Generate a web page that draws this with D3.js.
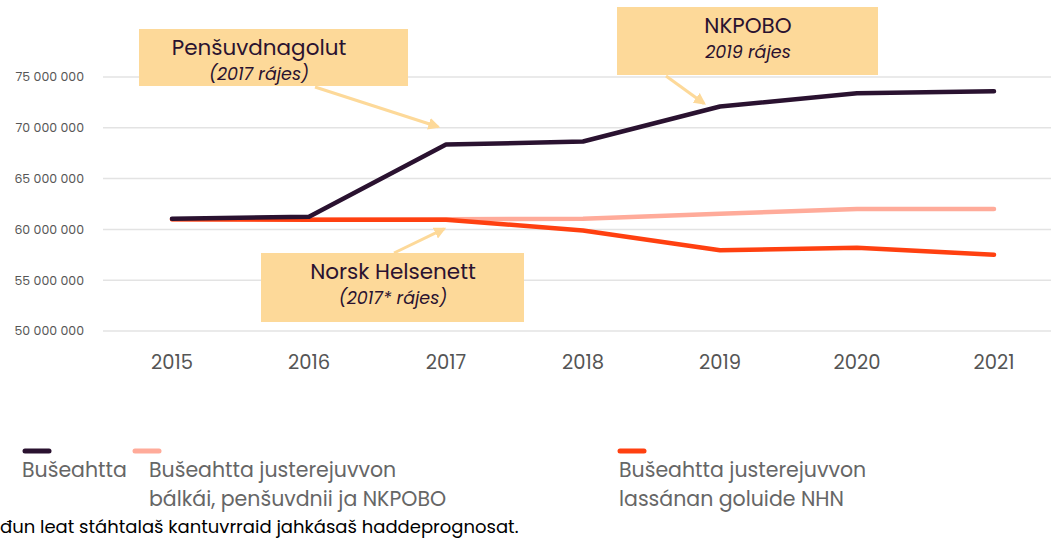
<!DOCTYPE html>
<html>
<head>
<meta charset="UTF-8">
<title>Bušeahtta</title>
<style>
html, body { margin:0; padding:0; background:#fff; }
svg { display:block; font-family: Poppins, Inter, "Open Sans", sans-serif; }
.grid line { stroke:#e3e3e3; stroke-width:1.5; }
.ytick { fill:#555; font-size:12.5px; }
.xtick { fill:#555; font-size:19.5px; }
.note { fill:#fdd999; }
.noteT { fill:#2a1230; }
.leg { fill:#666; font-size:20.5px; }
</style>
<script src="https://cdnjs.cloudflare.com/ajax/libs/d3/7.8.5/d3.min.js"></script>
</head>
<body>
<svg id="chart" width="1051" height="539"></svg>
<script>
const years = [2015, 2016, 2017, 2018, 2019, 2020, 2021];
const budget = [61.05e6, 61.25e6, 68.35e6, 68.65e6, 72.1e6, 73.4e6, 73.6e6];
const adjPension = [61.0e6, 60.95e6, 61.0e6, 61.05e6, 61.55e6, 62.0e6, 62.0e6];
const adjNhn = [61.0e6, 60.95e6, 60.95e6, 59.9e6, 57.95e6, 58.2e6, 57.5e6];
const yTicks = [50e6, 55e6, 60e6, 65e6, 70e6, 75e6];
const seriesNames = ['Bušeahtta', 'Bušeahtta justerejuvvon|bálkái, penšuvdnii ja NKPOBO', 'Bušeahtta justerejuvvon|lassánan goluide NHN'];
const colors = ['#2a1230', '#ffab9a', '#ff4010'];

const svg = d3.select('#chart');
const x = d3.scalePoint().domain(years).range([172, 994]);
const y = d3.scaleLinear().domain([50e6, 75e6]).range([331, 77]);
const fmt = v => d3.format(',')(v).replace(/,/g, ' ');

// grid + y labels
const grid = svg.append('g').attr('class', 'grid');
grid.selectAll('line').data(yTicks).enter().append('line')
	.attr('x1', 103).attr('x2', 1051)
	.attr('y1', d => y(d)).attr('y2', d => y(d));
svg.append('g').selectAll('text').data(yTicks).enter().append('text')
	.attr('class', 'ytick').attr('x', 84).attr('y', d => y(d)).attr('dy', '0.35em')
	.attr('text-anchor', 'end').text(fmt);

// x labels
svg.append('g').selectAll('text').data(years).enter().append('text')
	.attr('class', 'xtick').attr('x', d => x(d)).attr('y', 369)
	.attr('text-anchor', 'middle').text(d => d);

// lines (pink under, then orange, dark on top)
const line = d3.line().x((d, i) => x(years[i])).y(d => y(d));
[[adjPension, colors[1]], [adjNhn, colors[2]], [budget, colors[0]]].forEach(([s, c]) => {
	svg.append('path').attr('d', line(s)).attr('fill', 'none')
		.attr('stroke', c).attr('stroke-width', 4.5)
		.attr('stroke-linecap', 'round').attr('stroke-linejoin', 'round');
});

// annotations
svg.append('defs').append('marker')
	.attr('id', 'arr').attr('viewBox', '0 0 10 10').attr('refX', 8).attr('refY', 5)
	.attr('markerWidth', 4).attr('markerHeight', 4).attr('orient', 'auto')
	.append('path').attr('d', 'M0 0 10 5 0 10Z').attr('fill', '#fdd999');

function note(bx, by, bw, bh, title, sub, tx, from, to) {
	svg.append('line').attr('x1', from[0]).attr('y1', from[1])
		.attr('x2', to[0]).attr('y2', to[1])
		.attr('stroke', '#fdd999').attr('stroke-width', 3).attr('marker-end', 'url(#arr)');
	svg.append('rect').attr('class', 'note').attr('x', bx).attr('y', by).attr('width', bw).attr('height', bh);
	svg.append('text').attr('class', 'noteT').attr('x', tx).attr('y', by + 26)
		.attr('text-anchor', 'middle').style('font-size', '21.5px').text(title);
	svg.append('text').attr('class', 'noteT').attr('x', tx).attr('y', by + 51)
		.attr('text-anchor', 'middle').style('font-size', '17.5px').style('font-style', 'italic').text(sub);
}
note(139, 29, 269, 57, 'Penšuvdnagolut', '(2017 rájes)', 259, [315, 87], [x(2017) - 8, y(70.1e6)]);
note(617, 7, 261, 68, 'NKPOBO', '2019 rájes', 748, [666, 76], [x(2019) - 16, y(72.4e6)]);
note(261, 253, 263, 69, 'Norsk Helsenett', '(2017* rájes)', 393, [394, 253], [x(2017) - 2, y(60.05e6)]);

// legend
const legX = [22, 132, 617];
const legTx = [22, 149, 619];
seriesNames.forEach((n, i) => {
	svg.append('line').attr('x1', legX[i] + 3).attr('x2', legX[i] + 27)
		.attr('y1', 451).attr('y2', 451).attr('stroke', colors[i])
		.attr('stroke-width', 5).attr('stroke-linecap', 'round');
	n.split('|').forEach((t, j) => {
		svg.append('text').attr('class', 'leg').attr('x', legTx[i]).attr('y', 477 + j * 29).text(t);
	});
});

svg.append('text').attr('x', 0).attr('y', 533).style('font-size', '18px').attr('fill', '#000')
	.text('đun leat stáhtalaš kantuvrraid jahkásaš haddeprognosat.');
</script>
</body>
</html>
